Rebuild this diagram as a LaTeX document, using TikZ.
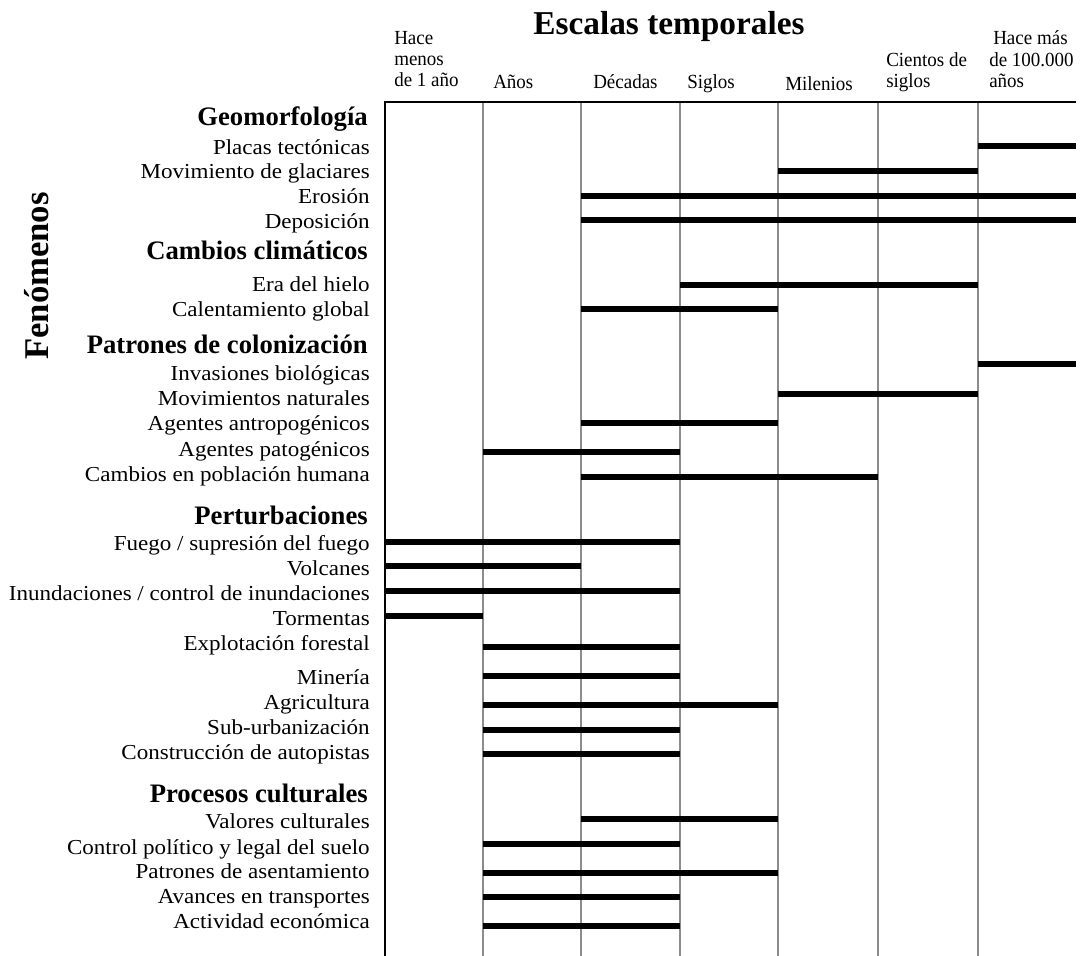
\documentclass[tikz,border=0pt]{standalone}
\usepackage{fontspec}
\setmainfont{Liberation Serif}
\newfontfamily\lblfont[FakeStretch=1.08]{Liberation Serif}
\newfontfamily\hdfont[FakeStretch=0.95]{Liberation Serif}
\begin{document}
\begin{tikzpicture}[x=0.75pt,y=-0.75pt,
  lbl/.style={anchor=base east,inner sep=0pt,font=\lblfont\fontsize{16pt}{18pt}\selectfont},
  cat/.style={anchor=base east,inner sep=0pt,font=\fontsize{20pt}{22pt}\selectfont\bfseries},
  colhd/.style={anchor=base west,inner sep=0pt,font=\hdfont\fontsize{15pt}{16pt}\selectfont},
  grid line/.style={draw=black!45,line width=0.8pt},
  bar/.style={line width=5.2pt}]
\useasboundingbox (0,0) rectangle (1086,956);

% title and axis caption
\node[anchor=base,inner sep=0pt,font=\fontsize{25pt}{28pt}\selectfont\bfseries] (title) at (669,35) {Escalas temporales};
\node[rotate=90,anchor=center,inner sep=0pt,font=\fontsize{26pt}{28pt}\selectfont\bfseries] (fen) at (37,276) {Fenómenos};

% column headings
\node[colhd] (c1a) at (394,45) {Hace};
\node[colhd] (c1b) at (394,66) {menos};
\node[colhd] (c1c) at (394,87) {de 1 año};
\node[colhd] (c2) at (493,89) {Años};
\node[colhd] (c3) at (593,89) {Décadas};
\node[colhd] (c4) at (687,89) {Siglos};
\node[colhd] (c5) at (785,91) {Milenios};
\node[colhd] (c6a) at (886,67) {Cientos de};
\node[colhd] (c6b) at (886,88) {siglos};
\node[colhd] (c7a) at (993,45) {Hace más};
\node[colhd] (c7b) at (989,67) {de 100.000};
\node[colhd] (c7c) at (989,88) {años};

% grid
\foreach \gx in {483,581,680,778,878,978}
  \draw[grid line] (\gx,102) -- (\gx,956);
\draw[line width=1.6pt] (385,102) -- (1076,102);
\draw[line width=2.2pt] (385,101.2) -- (385,956);

% category headings
\node[cat] (geo) at (368,126) {Geomorfología};
\node[cat] (cli) at (368,259) {Cambios climáticos};
\node[cat] (col) at (368,353) {Patrones de colonización};
\node[cat] (per) at (368,524) {Perturbaciones};
\node[cat] (cul) at (368,802) {Procesos culturales};

% row labels (baseline) and ranges
\foreach \ty/\txt/\by/\xa/\xb in {
  154/{Placas tectónicas}/146/978/1076,
  178/{Movimiento de glaciares}/171/778/978,
  203/{Erosión}/196/581/1076,
  228/{Deposición}/220/581/1076,
  291/{Era del hielo}/285/680/978,
  316/{Calentamiento global}/309/581/778,
  380/{Invasiones biológicas}/364/978/1076,
  405/{Movimientos naturales}/394/778/978,
  430/{Agentes antropogénicos}/423/581/778,
  456/{Agentes patogénicos}/452/483/680,
  481/{Cambios en población humana}/477/581/878,
  550/{Fuego / supresión del fuego}/542/385/680,
  575/{Volcanes}/566/385/581,
  600/{Inundaciones / control de inundaciones}/591/385/680,
  625/{Tormentas}/616/385/483,
  650/{Explotación forestal}/647/483/680,
  684/{Minería}/676/483/680,
  709/{Agricultura}/705/483/778,
  734/{Sub-urbanización}/730/483/680,
  759/{Construcción de autopistas}/754/483/680,
  828/{Valores culturales}/819/581/778,
  854/{Control político y legal del suelo}/844/483/680,
  878/{Patrones de asentamiento}/873/483/778,
  903/{Avances en transportes}/897/483/680,
  928/{Actividad económica}/926/483/680}
{
  \node[lbl] (row\ty) at (370,\ty) {\txt};
  \draw[bar] (\xa,\by) -- (\xb,\by);
}
\end{tikzpicture}
\end{document}
